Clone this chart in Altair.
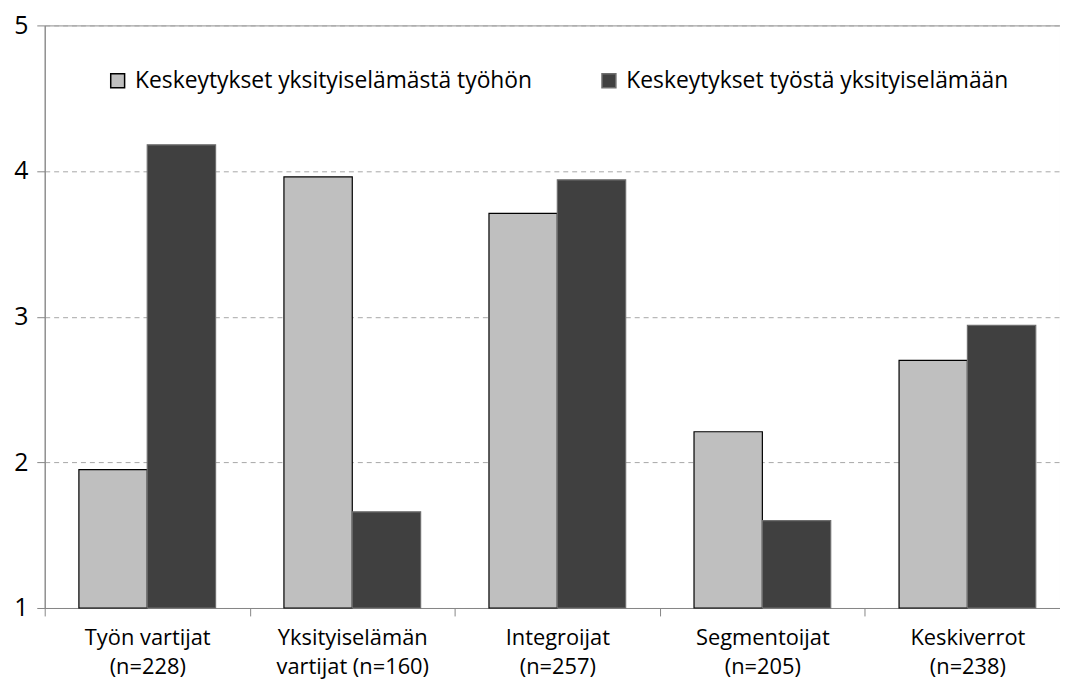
import altair as alt
import pandas as pd

categories = ["Työn vartijat|(n=228)", "Yksityiselämän|vartijat (n=160)",
              "Integroijat|(n=257)", "Segmentoijat|(n=205)", "Keskiverrot|(n=238)"]
series = ["Keskeytykset yksityiselämästä työhön", "Keskeytykset työstä yksityiselämään"]
values_home_to_work = [1.95, 3.96, 3.71, 2.21, 2.70]
values_work_to_home = [4.18, 1.66, 3.94, 1.60, 2.94]
y_ticks = [1, 2, 3, 4, 5]

rows = []
for c, v1, v2 in zip(categories, values_home_to_work, values_work_to_home):
    rows.append({"cat": c, "series": series[0], "value": v1})
    rows.append({"cat": c, "series": series[1], "value": v2})
df = pd.DataFrame(rows)

fills = ["#BFBFBF", "#404040"]
strokes = ["#000000", "#6E6E6E"]

chart = alt.Chart(df).mark_bar(strokeWidth=1.2).encode(
    x=alt.X("cat:N", sort=categories, title=None,
            scale=alt.Scale(paddingInner=0, paddingOuter=0, range=[0, 1033]),
            axis=alt.Axis(labelAngle=0, tickBand="extent", tickSize=8,
                          labelExpr="split(datum.label, '|')",
                          labelLineHeight=29, labelFontSize=22, labelPadding=12,
                          domainColor="#868686", tickColor="#868686",
                          labelColor="#000000", labelBaseline="top")),
    xOffset=alt.XOffset("series:N", sort=series,
                        scale=alt.Scale(paddingInner=0, paddingOuter=0.5)),
    y=alt.Y("value:Q", title=None,
            scale=alt.Scale(domain=[1, 5], zero=False, nice=False),
            axis=alt.Axis(values=y_ticks, grid=True, gridDash=[5, 4],
                          gridColor="#A6A6A6", tickSize=8, labelPadding=9,
                          labelFontSize=25, domainColor="#868686",
                          tickColor="#868686", labelColor="#000000", format="d")),
    y2=alt.datum(1),
    fill=alt.Fill("series:N", sort=series, title=None,
                  scale=alt.Scale(domain=series, range=fills)),
    stroke=alt.Stroke("series:N", sort=series, title=None,
                      scale=alt.Scale(domain=series, range=strokes)),
).properties(
    width=1023, height=587,
    autosize=alt.AutoSizeParams(type="none"),
    padding={"left": 37, "top": 15, "right": 0, "bottom": 69},
).configure(font="Open Sans").configure_view(
    stroke="#8C8C8C"
).configure_legend(
    orient="none", legendX=62, legendY=44, direction="horizontal",
    symbolType="square", symbolSize=196, symbolStrokeWidth=1.5,
    labelFontSize=23, labelColor="#000000", labelOffset=6,
    columnPadding=65, padding=0, labelLimit=600
)

chart.save("out.html", embed_options={"renderer": "svg", "actions": False})
